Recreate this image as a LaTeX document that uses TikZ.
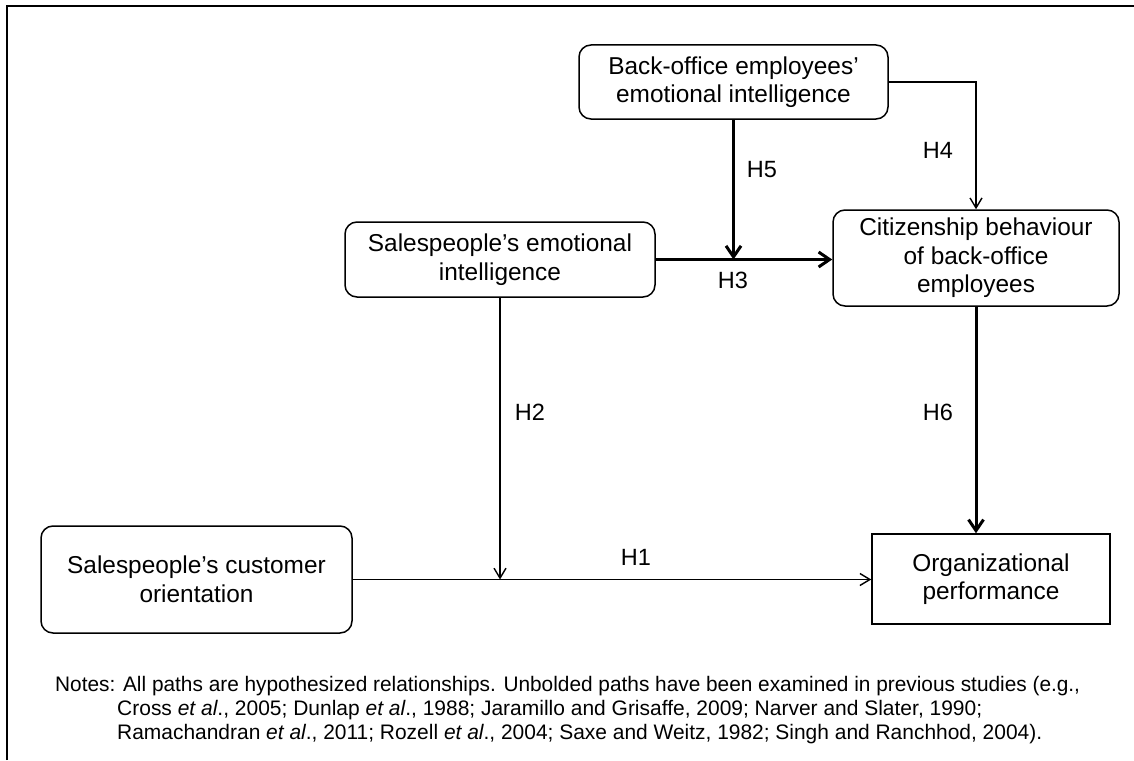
\documentclass[tikz,border=0pt]{standalone}
\usepackage{fontspec}
\setmainfont{Liberation Sans}
\usetikzlibrary{arrows.meta}
\begin{document}
\begin{tikzpicture}[x=1pt,y=-1pt,
  box/.style={draw, line width=1.5pt, rounded corners=12pt, align=center, inner sep=0pt, font=\fontsize{24.4}{28.5}\selectfont},
  sqbox/.style={box, rounded corners=0pt},
  thinarr/.style={line width=1.4pt, -{Straight Barb[length=10pt,width=12pt]}},
  thickarr/.style={line width=3pt, -{Straight Barb[length=11pt,width=15pt]}},
  lbl/.style={font=\fontsize{23.5}{28}\selectfont, inner sep=0pt},
  note/.style={anchor=base west, inner sep=0pt, font=\fontsize{21}{25}\selectfont}]
\useasboundingbox (0,0) rectangle (1134,760);
\fill[white] (0,0) rectangle (1134,760);
% frame
\draw[line width=2pt] (7,760) -- (7,6.5) -- (1134,6.5);
% nodes
\node[box, minimum width=309pt, minimum height=74pt] (bo) at (733.5,82) {Back-office employees’\\emotional intelligence};
\node[box, minimum width=310pt, minimum height=75pt] (sei) at (500,259.5) {Salespeople’s emotional\\intelligence};
\node[box, minimum width=286pt, minimum height=96pt] (cit) at (976,258) {Citizenship behaviour\\of back-office\\employees};
\node[sqbox, minimum width=238pt, minimum height=90pt] (org) at (991,579) {Organizational\\performance};
\node[box, minimum width=311pt, minimum height=107pt] (sco) at (196.5,579.5) {Salespeople’s customer\\orientation};
% connectors
\draw[thickarr] (sei.east) -- (sei.east -| cit.west);
\draw[thickarr] (bo.south) -- (bo.south |- sei.east);
\draw[thinarr] (bo.east) -| (cit.north);
\draw[thickarr] (cit.south) -- (cit.south |- org.north);
\draw[thinarr] (sco.east) -- (sco.east -| org.west);
\draw[thinarr] (sei.south) -- (sei.south |- sco.east);
% labels
\node[lbl] (h1) at (636,557) {H1};
\node[lbl] (h2) at (530,412) {H2};
\node[lbl] (h3) at (733,280) {H3};
\node[lbl] (h4) at (938,150) {H4};
\node[lbl] (h5) at (762,170) {H5};
\node[lbl] (h6) at (938,412) {H6};
% notes
\node[note] (n1) at (55,691) {\resizebox{1025pt}{\height}{Notes: All paths are hypothesized relationships. Unbolded paths have been examined in previous studies (e.g.,}};
\node[note] (n2) at (117,715) {\resizebox{865pt}{\height}{Cross \textit{et al}., 2005; Dunlap \textit{et al}., 1988; Jaramillo and Grisaffe, 2009; Narver and Slater, 1990;}};
\node[note] (n3) at (117,739) {\resizebox{925pt}{\height}{Ramachandran \textit{et al}., 2011; Rozell \textit{et al}., 2004; Saxe and Weitz, 1982; Singh and Ranchhod, 2004).}};
\end{tikzpicture}
\end{document}
